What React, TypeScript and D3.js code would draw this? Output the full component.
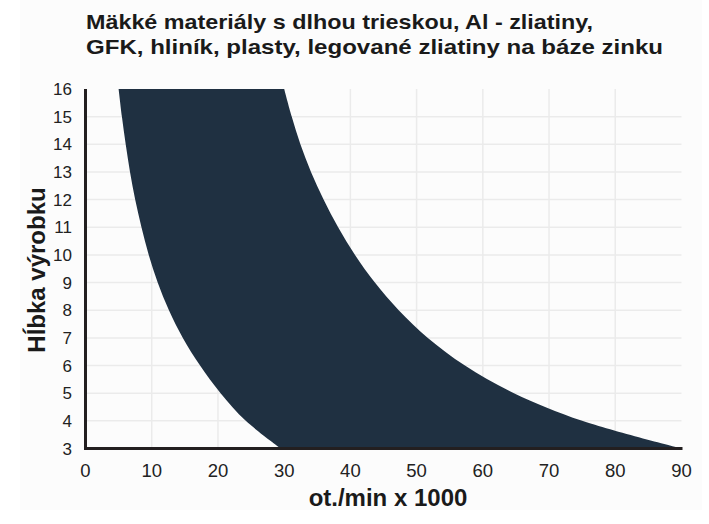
import React from "react";
import * as d3 from "d3";

const titleLines = [
  "Mäkké materiály s dlhou trieskou, Al - zliatiny,",
  "GFK, hliník, plasty, legované zliatiny na báze zinku",
];
const xLabel = "ot./min x 1000";
const yLabel = "Hĺbka výrobku";

const depth = [3, 4, 5, 6, 7, 8, 9, 10, 11, 12, 13, 14, 15, 16];
const minRpm = [29.5, 24.2, 20.4, 17.3, 14.7, 12.6, 10.9, 9.55, 8.45, 7.5, 6.72, 6.07, 5.5, 5.0];
const maxRpm = [90, 75.0, 64.7, 57.3, 51.7, 47.3, 43.7, 40.7, 38.15, 35.95, 34.05, 32.45, 31.15, 30.0];

const xTicks = [0, 10, 20, 30, 40, 50, 60, 70, 80, 90];
const yTicks = [3, 4, 5, 6, 7, 8, 9, 10, 11, 12, 13, 14, 15, 16];

export default function App() {
  const W = 709, H = 524;
  const x = d3.scaleLinear().domain([0, 90]).range([85.5, 681.5]);
  const y = d3.scaleLinear().domain([3, 16]).range([448.5, 89]);

  const rows = depth.map((d, i) => ({ d, lo: minRpm[i], hi: maxRpm[i] }));
  const area = d3
    .area<{ d: number; lo: number; hi: number }>()
    .y((r) => y(r.d))
    .x0((r) => x(r.lo))
    .x1((r) => x(r.hi))
    .curve(d3.curveCatmullRom.alpha(0.5));

  const font = "'Liberation Sans', Arial, Helvetica, sans-serif";
  const titleWidths = [507, 577];

  return (
    <svg
      width={W}
      height={H}
      style={{ position: "absolute", left: 0, top: 0, background: "#fff" }}
      fontFamily={font}
    >
      <rect x={20} y={0} width={682} height={510} fill="#fcfcfc" />
      <defs>
        <clipPath id="plot">
          <rect x={x(0)} y={y(16)} width={x(90) - x(0)} height={y(3) - y(16)} />
        </clipPath>
      </defs>
      {yTicks
        .filter((t) => t > 3 && t < 16)
        .map((t) => (
          <line key={"gy" + t} x1={x(0)} x2={x(90)} y1={y(t)} y2={y(t)} stroke="#ebebeb" strokeWidth={1.5} />
        ))}
      {xTicks
        .filter((t) => t > 0 && t < 90)
        .map((t) => (
          <line key={"gx" + t} x1={x(t)} x2={x(t)} y1={y(16)} y2={y(3)} stroke="#ebebeb" strokeWidth={1.5} />
        ))}
      <path d={area(rows) || ""} fill="#1f3041" clipPath="url(#plot)" />
      <line x1={x(0)} x2={x(0)} y1={y(16)} y2={y(3) + 1.5} stroke="#231f20" strokeWidth={3} />
      <line x1={x(0) - 1.5} x2={x(90) + 1} y1={y(3)} y2={y(3)} stroke="#231f20" strokeWidth={3} />
      {yTicks.map((t) => (
        <text key={"ty" + t} x={72} y={y(t)} dy="0.36em" textAnchor="end" fontSize={17} fill="#222">
          {t}
        </text>
      ))}
      {xTicks.map((t) => (
        <text key={"tx" + t} x={x(t)} y={476.5} textAnchor="middle" fontSize={18.5} fill="#222">
          {t}
        </text>
      ))}
      {titleLines.map((l, i) => (
        <text
          key={"t" + i}
          x={86}
          y={28.5 + i * 25}
          fontSize={21}
          fontWeight="bold"
          fill="#1a1a1a"
          textLength={titleWidths[i]}
          lengthAdjust="spacingAndGlyphs"
        >
          {l}
        </text>
      ))}
      <text x={388} y={506} textAnchor="middle" fontSize={24} fontWeight="bold" fill="#1a1a1a">
        {xLabel}
      </text>
      <text
        transform={`translate(45, 270) rotate(-90)`}
        textAnchor="middle"
        fontSize={24}
        fontWeight="bold"
        fill="#1a1a1a"
      >
        {yLabel}
      </text>
    </svg>
  );
}
